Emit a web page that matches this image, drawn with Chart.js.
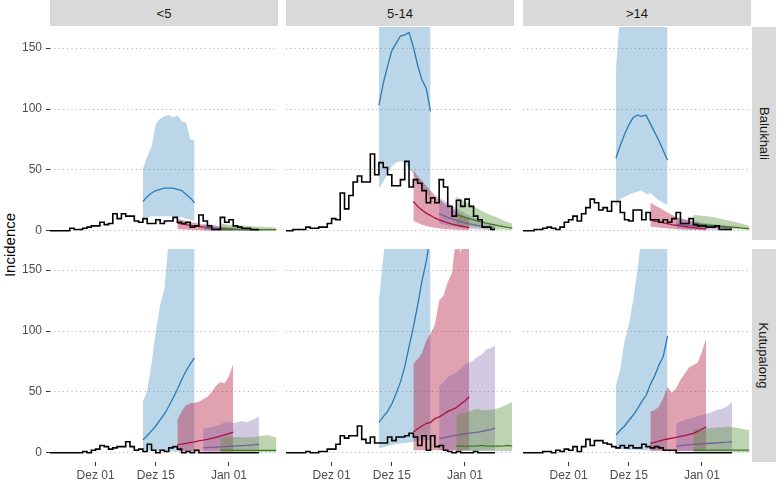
<!DOCTYPE html>
<html>
<head>
<meta charset="utf-8">
<script src="https://cdn.jsdelivr.net/npm/chart.js@4.4.1/dist/chart.umd.min.js"></script>
<style>
html,body{margin:0;padding:0;background:#fff;}
body{width:778px;height:481px;position:relative;overflow:hidden;font-family:"Liberation Sans",Arial,Helvetica,sans-serif;}
canvas{position:absolute;}
.strip{position:absolute;background:#d9d9d9;color:#1a1a1a;font-size:13px;display:flex;align-items:center;justify-content:center;}
.strip span{white-space:nowrap;display:block;}
.strip.right span{transform:rotate(90deg);}
#ytitle{position:absolute;left:9px;top:245px;transform:translate(-50%,-50%) rotate(-90deg);font-size:15px;color:#000;white-space:nowrap;}
</style>
</head>
<body>
<div id="ytitle">Incidence</div>
<script>
// ---------------- DATA ----------------
const ageGroups = ['<5', '5-14', '>14'];
const camps = ['Balukhali', 'Kutupalong'];
const xTickDays = [0, 14, 31];               // days after Dez 01
const xTickLabels = ['Dez 01', 'Dez 15', 'Jan 01'];
const yTicks = [0, 50, 100, 150];
const obsStartDay = -11;                     // first observed day
const forecastNames = ['blue', 'red', 'purple', 'green'];
const forecastStartDays = [11, 19, 25, 29];

// observed incidence, daily, days -11 .. 38
const obs_bal_u5  = [0,0,0,0,0, 2,1,1,2,3, 4,4,7,5,6, 14,10,14,12,12, 8,7,10,6,6, 9,6,8,8,11, 7,6,7,3,4, 13,8,4,1,1, 11,7,9,4,3, 2,2,1,1,1];
const obs_bal_514 = [0,0,1,1,1, 3,2,2,3,3, 6,10,9,31,18, 29,40,45,40,40, 63,46,56,52,46, 37,37,42,57,36, 42,39,33,23,27, 23,42,36,20,12, 25,20,26,20,12, 9,3,3,1,1];
const obs_bal_o14 = [0,0,0,1,1, 2,3,2,1,3, 7,9,12,8,14, 19,26,23,17,19, 16,24,24,15,9, 8,17,17,9,15, 9,9,7,9,7, 10,15,6,6,10, 5,4,4,3,3, 4,1,1,1,1];
const obs_kut_u5  = [0,0,0,0,0, 0,0,0,1,0, 2,3,6,5,3, 4,5,5,9,5, 2,3,1,7,2, 0,2,1,4,5, 3,0,1,0,2, 0,0,0,0,0, 0,0,0,0,0, 0,0,0,0,0];
const obs_kut_514 = [0,0,0,0,0, 1,0,0,1,1, 3,3,7,14,12, 14,14,22,11,8, 13,8,8,8,13, 10,13,13,14,16, 13,6,14,2,14, 5,6,2,1,0, 1,0,0,0,1, 0,0,0,0,0];
const obs_kut_o14 = [0,0,0,0,0, 1,1,0,2,1, 3,2,5,1,5, 11,6,10,10,8, 7,5,4,6,4, 6,4,4,7,5, 4,5,4,2,2, 2,0,0,0,0, 0,0,0,0,0, 0,0,0,0,0];

// forecasts: lower bound, median, upper bound
// Balukhali <5
const bal_u5_blue_lo  = [11,11,12,12,12,12,12,12,11,11,10,9,8];
const bal_u5_blue_med = [24,28,31,33,34,35,35,35,34,33,30,27,23];
const bal_u5_blue_hi  = [51,61,69,88,92,94,95,93,95,90,89,75,74];
const bal_u5_red_lo   = [1.5,1.2,1,0.8,0.6,0.5,0.4,0.3,0.2,0.2,0.1,0.1,0,0];
const bal_u5_red_med  = [6.3,5.6,5,4.5,4,3.5,3,2.6,2.2,1.9,1.6,1.4,1.2,1];
const bal_u5_red_hi   = [10,9,8,7,6.5,6,5,4.5,4,3.5,3,3,2.5,2.5];
const bal_u5_purple_lo  = [0.5,0.4,0.3,0.3,0.2,0.2,0.1,0.1,0.1,0,0,0,0,0];
const bal_u5_purple_med = [2.5,2.2,2,1.8,1.6,1.4,1.2,1.1,1,0.9,0.8,0.7,0.6,0.5];
const bal_u5_purple_hi  = [6,5.5,5,4.5,4,3.5,3,2.8,2.5,2.2,2,1.8,1.6,1.5];
const bal_u5_green_lo  = [0,0,0,0,0,0,0,0,0,0,0,0,0,0];
const bal_u5_green_med = [1.5,1.4,1.3,1.3,1.2,1.2,1.1,1.1,1,1,1,0.9,0.9,0.9];
const bal_u5_green_hi  = [6,5.5,5,5,4.5,4.5,4,4,3.5,3.5,3,3,2.8,2.5];
// Balukhali 5-14
const bal_514_blue_lo  = [35,40,47,53,56,57,56,51,47,40,35,31,28];
const bal_514_blue_med = [103,121,135,148,154,160,161,163,151,136,124,117,98];
const bal_514_blue_hi  = [190,205,220,230,240,245,250,250,245,235,225,215,200];
const bal_514_red_lo   = [8,6.5,5,4,3,2.5,2,1.5,1.2,1,0.8,0.6,0.5,0.4];
const bal_514_red_med  = [24,20,17,14.5,12.5,10.5,9,7.7,6.5,5.5,4.7,3.9,3.2,2.5];
const bal_514_red_hi   = [50,45,41,37,33,29,26,23,20,18,16,14,12,10];
const bal_514_purple_lo  = [6,5,4.3,3.6,3,2.5,2,1.6,1.3,1,0.8,0.6,0.5,0.4];
const bal_514_purple_med = [14,12.5,11,9.8,8.6,7.5,6.5,5.7,5,4.3,3.6,3,2.5,2];
const bal_514_purple_hi  = [27,25,22.5,20.5,18.5,16.5,14.5,12.5,11,9.5,8,7,6,5];
const bal_514_green_lo  = [5,4.5,4,3.5,3,2.6,2.2,1.9,1.6,1.3,1.1,1,0.9,0.8];
const bal_514_green_med = [13,12,11,10,9,8,7,6.2,5.5,4.8,4,3.3,2.7,2.2];
const bal_514_green_hi  = [28,26,24,22,20,18,16,14.5,13,11.5,10,8.5,7,6];
// Balukhali >14
const bal_o14_blue_lo  = [20,26,28,29.5,31,32,33,30,31,28,25,23,21];
const bal_o14_blue_med = [59.6,70,79,87,93,95,94,95,88,81,74,66,58];
const bal_o14_blue_hi  = [132,180,200,210,215,220,220,215,210,205,200,195,190];
const bal_o14_red_lo   = [3.5,3,2.6,2.2,1.9,1.6,1.3,1.1,0.9,0.7,0.6,0.5,0.4,0.3];
const bal_o14_red_med  = [9,8,7.2,6.5,5.8,5.1,4.5,4,3.5,3,2.6,2.2,1.8,1.5];
const bal_o14_red_hi   = [23,21,19,17,15,13,11.5,10.5,9.5,8.5,7.5,6.8,6,5.3];
const bal_o14_purple_lo  = [2,1.8,1.6,1.5,1.3,1.2,1.1,1,0.9,0.8,0.7,0.6,0.5,0.5];
const bal_o14_purple_med = [5.5,5.1,4.8,4.5,4.2,3.9,3.6,3.3,3.1,2.9,2.7,2.5,2.3,2.1];
const bal_o14_purple_hi  = [10.5,10,9.3,8.7,8,7.4,6.8,6.3,5.8,5.3,4.8,4.4,4,3.6];
const bal_o14_green_lo  = [3,2.8,2.6,2.4,2.2,2,1.8,1.7,1.5,1.4,1.3,1.2,1.1,1];
const bal_o14_green_med = [5.7,5.4,5.1,4.8,4.5,4.2,3.9,3.6,3.3,3,2.7,2.3,2,1.6];
const bal_o14_green_hi  = [13,12.8,12.4,12,11.5,10.8,10,9.3,8.6,7.8,7,6.2,5,4];
// Kutupalong <5
const kut_u5_blue_lo  = [2,2,2,1.5,1.5,1.5,1,1,1,1,1,1,1];
const kut_u5_blue_med = [10.5,14,18,22,27,32,38,45,52,60,67,73,78];
const kut_u5_blue_hi  = [42,51,73,100,121,135,175,195,215,235,255,275,295];
const kut_u5_red_lo   = [1.5,1.5,1.2,1.2,1,1,1,1,1,1,1,1,1,1];
const kut_u5_red_med  = [6.5,7,7.7,8.4,9,9.7,10.3,11,11.8,12.7,13.6,14.6,15.7,17];
const kut_u5_red_hi   = [27,34,39,40.5,41,42,44,46,50,55,58,57,63,73];
const kut_u5_purple_lo  = [1,1,1,1,1,1,1,1,1,1,1,1,1,1];
const kut_u5_purple_med = [4,4.2,4.4,4.6,4.8,5,5.2,5.4,5.6,5.8,6,6.3,6.6,7];
const kut_u5_purple_hi  = [20,20.5,21,22,23,25,25,24.5,25,26,25,26.5,28,30];
const kut_u5_green_lo  = [0.5,0.5,0.5,0.5,0.5,0.5,0.5,0.5,0.5,0.5,0.5,0.5,0.5,0.5];
const kut_u5_green_med = [2,2,2,2,2,2,2,2,2,2,2,2,2,2];
const kut_u5_green_hi  = [12,12.5,13,13,13,12.8,12.6,12.8,13,13.5,14,14.5,13.5,12.5];
// Kutupalong 5-14
const kut_514_blue_lo  = [3.5,4.5,5.5,6.5,7,7.5,8,8.5,9,9.5,10,10.5,10.5];
const kut_514_blue_med = [25,29.5,34,40,48.6,58,70.5,87,103,121,141,157,180];
const kut_514_blue_hi  = [125,160,190,210,230,250,270,290,310,330,350,370,390];
const kut_514_red_lo   = [2,2,2,2,2,2,2,2,2,2,2,2,2,2];
const kut_514_red_med  = [17,19.5,22,24,25,28,29.5,31.5,34,35.5,37,40,42.5,46];
const kut_514_red_hi   = [73,77,82,92,98,105,125,129,140,148,180,164,190,200];
const kut_514_purple_lo  = [2,2,2,2,2,2,2,2,2,2,2,2,2,2];
const kut_514_purple_med = [11.7,12.3,13,13.7,14.5,15,15.6,16.2,16.6,17,17.6,18.3,19,20];
const kut_514_purple_hi  = [55,58,62,64,66,69,73,74,76,79,81,85,86,88];
const kut_514_green_lo  = [1.5,1.5,1.5,1.5,1.5,1.5,1.5,1.5,1.5,1.5,1.5,1.5,1.5,1.5];
const kut_514_green_med = [5.5,5.5,5.5,5.5,5.5,5.7,6,5.5,5.5,5.5,5.5,5.7,6,5.5];
const kut_514_green_hi  = [31,32,33,34,35.5,36,35,35,35.5,36,37,38.5,40,42];
// Kutupalong >14
const kut_o14_blue_lo  = [3,3,3,2.5,2.5,2.5,2,2,2,2,2,2,2];
const kut_o14_blue_med = [14.5,18.5,22,26.5,31,36,42,47,56,63,72,79,96];
const kut_o14_blue_hi  = [55,68,92,105,125,150,180,200,220,240,260,280,300];
const kut_o14_red_lo   = [1.5,1.5,1.5,1.5,1.5,1.5,1.5,1.5,1.5,1.5,1.5,1.5,1.5,1.5];
const kut_o14_red_med  = [7.6,8.6,9.6,10.5,11.3,12,12.7,13.4,14,15,16,17.5,19.5,21.3];
const kut_o14_red_hi   = [34,35,38,45,54,49,53,60,65,70,72,74,83,94];
const kut_o14_purple_lo  = [1.5,1.5,1.5,1.5,1.5,1.5,1.5,1.5,1.5,1.5,1.5,1.5,1.5,1.5];
const kut_o14_purple_med = [5.5,5.8,6.2,6.5,6.8,7.1,7.4,7.6,7.8,8,8.2,8.5,8.7,9];
const kut_o14_purple_hi  = [24,25.5,27,28,29,30,31,32,33,34.5,35.5,36.5,38.5,42];
const kut_o14_green_lo  = [0.5,0.5,0.5,0.5,0.5,0.5,0.5,0.5,0.5,0.5,0.5,0.5,0.5,0.5];
const kut_o14_green_med = [2.2,2.2,2.2,2.2,2.2,2.2,2.2,2.2,2.2,2.2,2.2,2.2,2.2,2.2];
const kut_o14_green_hi  = [19,19.5,20,20,20.5,20.5,21,21,21.5,21,20.5,20,19,18.6];

// ---------------- LAYOUT / STYLE ----------------
const PANEL_LEFT = [50, 286, 523];
const PANEL_TOP = [27, 249];
const PANEL_W = 228, PANEL_H = 213;
const YAXIS_W = 50, XAXIS_H = 19, PAD = 14;
const XMIN = -10.6, XMAX = 42.4, YMIN = -7.6, YMAX = 167.4;
const FONT = '"Liberation Sans", Arial, Helvetica, sans-serif';
const forecastStyles = [
  {line: '#2a7ab6', fill: 'rgba(31,120,180,0.3)'},
  {line: '#a8123f', fill: 'rgba(180,30,70,0.42)'},
  {line: '#6f6394', fill: 'rgba(106,81,163,0.3)'},
  {line: '#3c7d22', fill: 'rgba(90,145,60,0.4)'}
];

const panelData = [
  [
    {obs: obs_bal_u5, fc: [[bal_u5_blue_lo,bal_u5_blue_med,bal_u5_blue_hi],[bal_u5_red_lo,bal_u5_red_med,bal_u5_red_hi],[bal_u5_purple_lo,bal_u5_purple_med,bal_u5_purple_hi],[bal_u5_green_lo,bal_u5_green_med,bal_u5_green_hi]]},
    {obs: obs_bal_514, fc: [[bal_514_blue_lo,bal_514_blue_med,bal_514_blue_hi],[bal_514_red_lo,bal_514_red_med,bal_514_red_hi],[bal_514_purple_lo,bal_514_purple_med,bal_514_purple_hi],[bal_514_green_lo,bal_514_green_med,bal_514_green_hi]]},
    {obs: obs_bal_o14, fc: [[bal_o14_blue_lo,bal_o14_blue_med,bal_o14_blue_hi],[bal_o14_red_lo,bal_o14_red_med,bal_o14_red_hi],[bal_o14_purple_lo,bal_o14_purple_med,bal_o14_purple_hi],[bal_o14_green_lo,bal_o14_green_med,bal_o14_green_hi]]}
  ],
  [
    {obs: obs_kut_u5, fc: [[kut_u5_blue_lo,kut_u5_blue_med,kut_u5_blue_hi],[kut_u5_red_lo,kut_u5_red_med,kut_u5_red_hi],[kut_u5_purple_lo,kut_u5_purple_med,kut_u5_purple_hi],[kut_u5_green_lo,kut_u5_green_med,kut_u5_green_hi]]},
    {obs: obs_kut_514, fc: [[kut_514_blue_lo,kut_514_blue_med,kut_514_blue_hi],[kut_514_red_lo,kut_514_red_med,kut_514_red_hi],[kut_514_purple_lo,kut_514_purple_med,kut_514_purple_hi],[kut_514_green_lo,kut_514_green_med,kut_514_green_hi]]},
    {obs: obs_kut_o14, fc: [[kut_o14_blue_lo,kut_o14_blue_med,kut_o14_blue_hi],[kut_o14_red_lo,kut_o14_red_med,kut_o14_red_hi],[kut_o14_purple_lo,kut_o14_purple_med,kut_o14_purple_hi],[kut_o14_green_lo,kut_o14_green_med,kut_o14_green_hi]]}
  ]
];

function pts(start, arr) { return arr.map((v, i) => ({x: start + i, y: v})); }

// strips
ageGroups.forEach((age, c) => {
  const d = document.createElement('div');
  d.className = 'strip';
  d.style.left = PANEL_LEFT[c] + 'px'; d.style.top = '0px';
  d.style.width = PANEL_W + 'px'; d.style.height = '26px';
  const s = document.createElement('span'); s.textContent = age; d.appendChild(s);
  document.body.appendChild(d);
});
camps.forEach((camp, r) => {
  const d = document.createElement('div');
  d.className = 'strip right';
  d.style.left = '752px'; d.style.top = PANEL_TOP[r] + 'px';
  d.style.width = '24px'; d.style.height = PANEL_H + 'px';
  const s = document.createElement('span'); s.textContent = camp; d.appendChild(s);
  document.body.appendChild(d);
});

Chart.defaults.font.family = FONT;

camps.forEach((camp, r) => {
  ageGroups.forEach((age, c) => {
    const p = panelData[r][c];
    const isLeft = c === 0, isBottom = r === 1;
    const cw = (isLeft ? YAXIS_W : 0) + PANEL_W;
    const ch = PAD + PANEL_H + (isBottom ? XAXIS_H : PAD);
    const cv = document.createElement('canvas');
    cv.width = cw; cv.height = ch;
    cv.style.left = (PANEL_LEFT[c] - (isLeft ? YAXIS_W : 0)) + 'px';
    cv.style.top = (PANEL_TOP[r] - PAD) + 'px';
    cv.style.width = cw + 'px'; cv.style.height = ch + 'px';
    document.body.appendChild(cv);

    const datasets = [];
    forecastNames.forEach((name, k) => {
      const [lo, med, hi] = p.fc[k];
      const start = forecastStartDays[k];
      datasets.push({label: name + ' lo', data: pts(start, lo), borderWidth: 0, borderColor: 'rgba(0,0,0,0)', pointRadius: 0, fill: false, order: 40 - k});
      datasets.push({label: name + ' hi', data: pts(start, hi), borderWidth: 0, borderColor: 'rgba(0,0,0,0)', backgroundColor: forecastStyles[k].fill, pointRadius: 0, fill: '-1', order: 40 - k});
    });
    forecastNames.forEach((name, k) => {
      const med = p.fc[k][1];
      datasets.push({label: name + ' median', data: pts(forecastStartDays[k], med), borderColor: forecastStyles[k].line, borderWidth: 1.3, pointRadius: 0, fill: false, order: 20 - k});
    });
    datasets.push({label: 'observed', data: pts(obsStartDay, p.obs), borderColor: '#000', borderWidth: 1.6, stepped: 'before', pointRadius: 0, fill: false, order: 0});

    new Chart(cv, {
      type: 'line',
      data: {datasets},
      options: {
        responsive: false, animation: false, devicePixelRatio: 1,
        layout: {padding: {top: PAD, bottom: isBottom ? 0 : PAD, left: 0, right: 0}},
        plugins: {legend: {display: false}, tooltip: {enabled: false}},
        elements: {point: {radius: 0}, line: {tension: 0}},
        scales: {
          x: {
            type: 'linear', min: XMIN, max: XMAX, display: isBottom,
            grid: {display: true, drawOnChartArea: false, drawTicks: true, tickLength: 4, tickColor: '#333', tickWidth: 1},
            border: {display: false},
            ticks: {color: '#4d4d4d', font: {size: 12, family: FONT}, padding: 2, maxRotation: 0, autoSkip: false,
              callback: (v) => { const i = xTickDays.indexOf(v); return i >= 0 ? xTickLabels[i] : ''; }},
            afterBuildTicks: (s) => { s.ticks = xTickDays.map(v => ({value: v})); },
            afterFit: (s) => { s.height = isBottom ? XAXIS_H : 0; }
          },
          y: {
            type: 'linear', min: YMIN, max: YMAX, display: true,
            grid: {display: true, color: '#ababab', lineWidth: 1, drawOnChartArea: true, drawTicks: isLeft, tickLength: 4, tickColor: '#333', tickWidth: 1},
            border: {display: false, dash: [1, 3.3]},
            ticks: {display: isLeft, color: '#4d4d4d', font: {size: 12, family: FONT}, padding: 4},
            afterBuildTicks: (s) => { s.ticks = yTicks.map(v => ({value: v})); },
            afterFit: (s) => { s.width = isLeft ? YAXIS_W : 0; }
          }
        }
      }
    });
  });
});
</script>
</body>
</html>
